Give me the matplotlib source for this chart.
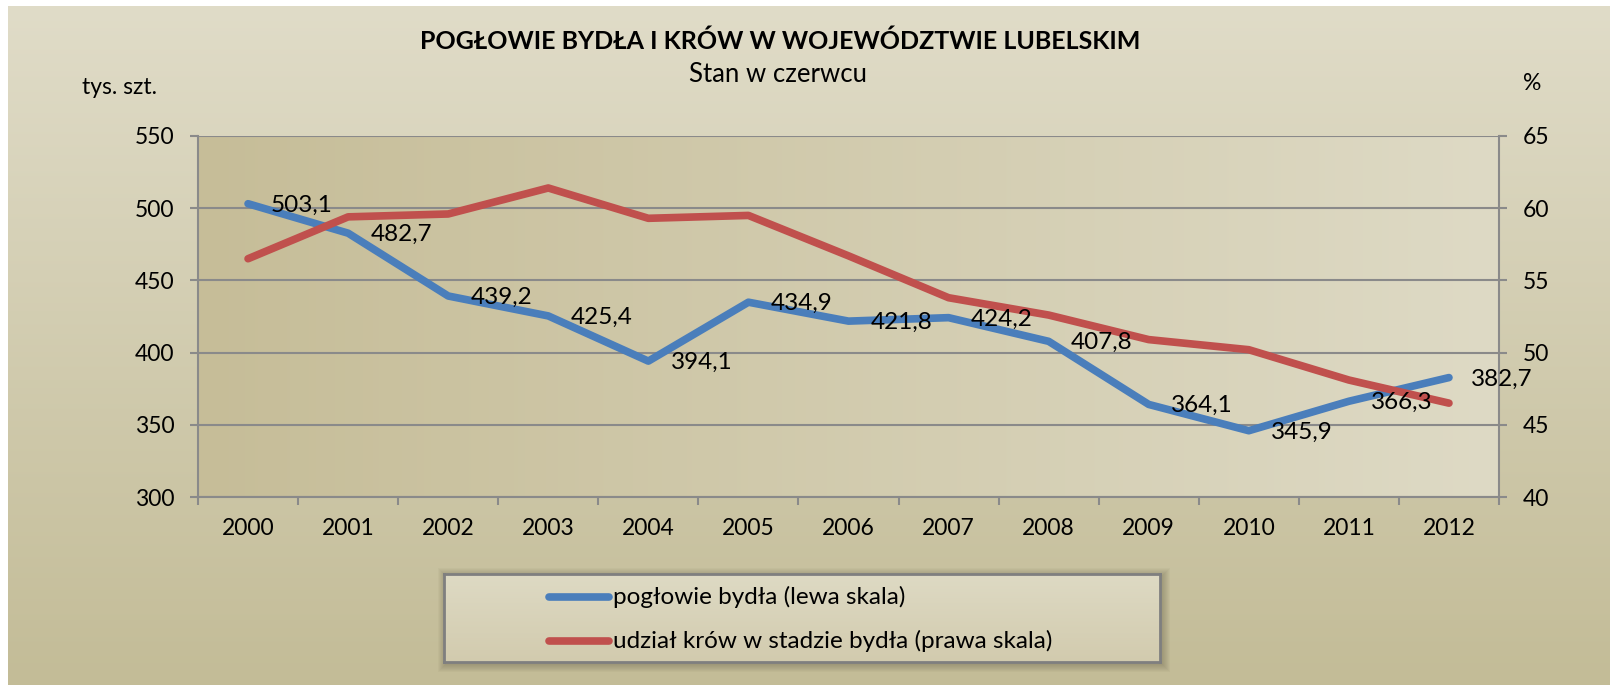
import numpy as np
import matplotlib
matplotlib.use("Agg")
import matplotlib.pyplot as plt
from matplotlib.colors import LinearSegmentedColormap
from matplotlib.patches import Rectangle
from matplotlib.lines import Line2D

plt.rcParams['font.family'] = ['Lato', 'DejaVu Sans']

# dane
years = ['2000', '2001', '2002', '2003', '2004', '2005', '2006',
         '2007', '2008', '2009', '2010', '2011', '2012']
bydlo = [503.1, 482.7, 439.2, 425.4, 394.1, 434.9, 421.8,
         424.2, 407.8, 364.1, 345.9, 366.3, 382.7]
udzial_krow = [56.5, 59.4, 59.6, 61.4, 59.3, 59.5, 56.7,
               53.8, 52.6, 50.9, 50.2, 48.1, 46.5]

W, H = 1610, 685
fig = plt.figure(figsize=(W / 100, H / 100), dpi=100)
fig.patch.set_facecolor('white')

GRID = '#8a8a8a'
BLUE = '#4a7ebb'
RED = '#c0504d'
FS = 16.5     # opisy osi
FL = 17.5     # etykiety danych i legenda

def grad(c1, c2, vertical=True):
    cm = LinearSegmentedColormap.from_list('g', [c1, c2])
    g = np.linspace(0, 1, 256)
    g = g.reshape(-1, 1) if vertical else g.reshape(1, -1)
    return cm(g)

# tlo wykresu
bg = fig.add_axes([8 / W, 0, 1 - 8 / W, 1 - 6 / H], zorder=-5)
bg.imshow(grad('#e0dcc8', '#c3bc97'), aspect='auto', extent=(0, 1, 0, 1),
          interpolation='bicubic')
bg.set_axis_off()

L, R, T, B = 198, 1499, 136, 497
ax = fig.add_axes([L / W, 1 - B / H, (R - L) / W, (B - T) / H])
ax.patch.set_visible(False)
x = np.arange(len(years))
ax.set_xlim(-0.5, len(years) - 0.5)
ax.set_ylim(300, 550)
ax.imshow(grad('#c6bd98', '#dedac5', vertical=False), aspect='auto',
          extent=(-0.5, len(years) - 0.5, 300, 550), interpolation='bicubic', zorder=0)
ax.set_axisbelow(True)
ax.yaxis.grid(True, color=GRID, lw=1.5)
ax.set_yticks(np.arange(300, 551, 50))
ax.set_xticks(x)
ax.set_xticklabels(years)
ax.set_xticks(np.arange(-0.5, len(years), 1), minor=True)
ax.tick_params(axis='x', which='major', length=0, pad=15, labelsize=FS)
ax.tick_params(axis='x', which='minor', length=6, width=1.5, color=GRID, direction='out')
ax.tick_params(axis='y', length=6, width=1.5, color=GRID, direction='out',
               pad=11, labelsize=FS)
for s in ['top', 'right']:
    ax.spines[s].set_visible(False)
for s in ['left', 'bottom']:
    ax.spines[s].set_color(GRID)
    ax.spines[s].set_linewidth(1.5)

ax2 = ax.twinx()
ax2.set_ylim(40, 65)
ax2.set_yticks(np.arange(40, 66, 5))
ax2.tick_params(axis='y', length=6, width=1.5, color=GRID, direction='out',
                pad=11, labelsize=FS)
for s in ['top', 'left', 'bottom']:
    ax2.spines[s].set_visible(False)
ax2.spines['right'].set_color(GRID)
ax2.spines['right'].set_linewidth(1.5)

l1, = ax.plot(x, bydlo, color=BLUE, lw=5.5, solid_capstyle='round',
              solid_joinstyle='round', label='pogłowie bydła (lewa skala)')
l2, = ax2.plot(x, udzial_krow, color=RED, lw=5.5, solid_capstyle='round',
               solid_joinstyle='round', label='udział krów w stadzie bydła (prawa skala)')

# etykiety danych nad liniami
for xi, v in zip(x, bydlo):
    ax2.annotate(f'{v:.1f}'.replace('.', ','), (xi, v), xycoords=ax.transData,
                 xytext=(16, -1), textcoords='offset points',
                 ha='left', va='center', fontsize=FL, zorder=5)

fig.text(780 / W, 1 - 41 / H, 'POGŁOWIE BYDŁA I KRÓW W WOJEWÓDZTWIE LUBELSKIM',
         ha='center', va='center', fontsize=18, fontweight='bold')
fig.text(778 / W, 1 - 75 / H, 'Stan w czerwcu', ha='center', va='center', fontsize=18.5)
fig.text(119 / W, 1 - 88 / H, 'tys. szt.', ha='center', va='center', fontsize=FS)
fig.text(1532 / W, 1 - 84 / H, '%', ha='center', va='center', fontsize=FS)

# legenda z cieniem
lx0, lx1, ly0, ly1 = 444, 1160, 574, 662
for i in range(8, 0, -1):
    fig.add_artist(Rectangle(((lx0 - i + 2) / W, 1 - (ly1 + i + 2) / H),
                             (lx1 - lx0 + 2 * i) / W, (ly1 - ly0 + 2 * i) / H,
                             transform=fig.transFigure, facecolor='#55503a',
                             edgecolor='none', alpha=0.045, zorder=1))
lax = fig.add_axes([lx0 / W, 1 - ly1 / H, (lx1 - lx0) / W, (ly1 - ly0) / H], zorder=2)
lax.imshow(grad('#dedac4', '#d2cbae'), aspect='auto', extent=(0, 1, 0, 1))
lax.set_xlim(0, 1)
lax.set_ylim(0, 1)
lax.set_xticks([])
lax.set_yticks([])
for s in lax.spines.values():
    s.set_color('#7f7f7f')
    s.set_linewidth(2)
for ln, yy in [(l1, 597), (l2, 641)]:
    fy = (ly1 - yy) / (ly1 - ly0)
    lax.add_line(Line2D([(549 - lx0) / (lx1 - lx0), (609 - lx0) / (lx1 - lx0)], [fy, fy],
                        color=ln.get_color(), lw=5.5, solid_capstyle='round'))
    lax.text((613 - lx0) / (lx1 - lx0), fy, ln.get_label(), ha='left', va='center',
             fontsize=FL)

fig.savefig('out.png', dpi=100, facecolor=fig.get_facecolor())
